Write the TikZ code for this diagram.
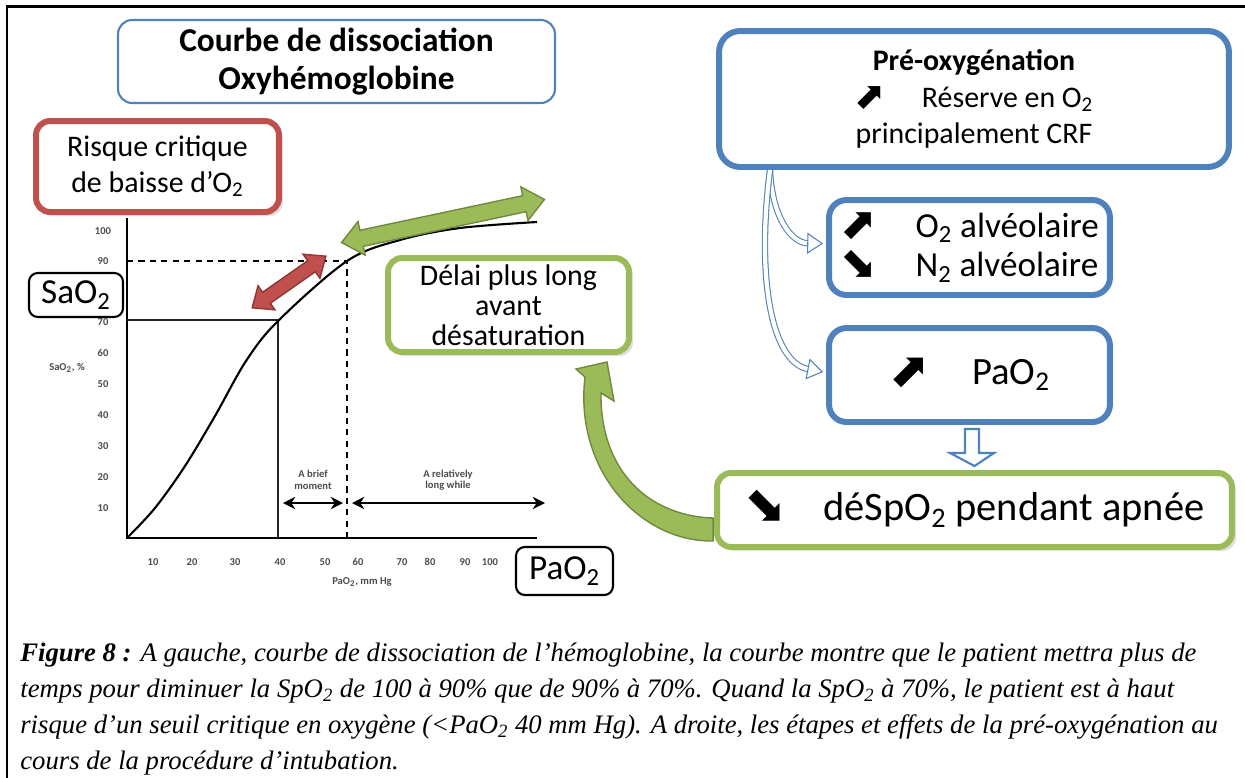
\documentclass[tikz,border=0pt]{standalone}
\usepackage{fontspec}
\setmainfont{Carlito}
\newfontfamily\capfont{Liberation Serif}
\newfontfamily\symfont{DejaVu Sans}
\usetikzlibrary{arrows.meta,calc,shapes.arrows,shadows}
\definecolor{offblue}{HTML}{4F81BD}
\definecolor{offred}{HTML}{C0504D}
\definecolor{offgreen}{HTML}{9BBB59}
\definecolor{darkgreen}{HTML}{71893F}
\definecolor{darkred}{HTML}{8C3836}
\newcommand{\upar}{\smash{\raisebox{-0.1ex}{\scalebox{1.25}{\symfont\char"2B08}}}}
\newcommand{\dnar}{\smash{\raisebox{-0.1ex}{\scalebox{1.25}{\symfont\char"2B0A}}}}
\newcommand{\sub}[1]{\textsubscript{#1}}
\tikzset{
  box/.style={draw, fill=white, align=center, inner sep=0pt, rounded corners=8pt},
  bluebox/.style={box, draw=offblue, line width=3.4pt, rounded corners=10pt},
  redbox/.style={box, draw=offred, line width=3.4pt, drop shadow={opacity=0.25}},
  greenbox/.style={box, draw=offgreen, line width=3.4pt, drop shadow={opacity=0.25}},
  blackbox/.style={box, line width=1.2pt, rounded corners=5pt, font=\fontsize{20}{22}\selectfont},
  tick/.style={inner sep=0pt, text=black!70, font=\bfseries\fontsize{6}{6.5}\selectfont},
  blockarr/.style={double arrow, inner xsep=0pt, line width=0.8pt, double arrow tip angle=80},
  hollow/.style={draw=offblue, double=white, line width=0.6pt, double distance=2.4pt,
    -{Triangle[fill=white, length=9pt, width=12pt, line width=0.6pt]}},
  span/.style={{Stealth[length=7pt,width=7pt]}-{Stealth[length=7pt,width=7pt]}, line width=0.9pt}
}
\begin{document}
\begin{tikzpicture}[x=0.02cm, y=-0.02cm]
\useasboundingbox (0,0) rectangle (1245,778);
\draw[line width=1.2pt] (7,800) -- (7,6.5) -- (1260,6.5);

% graph
\draw[line width=1.3pt] (127,218) -- (127,538) -- (537,538);
\draw[line width=0.8pt, black!85] (127,320) -- (278,320) -- (278,538);
\draw[line width=0.8pt, dash pattern=on 3.5pt off 3pt] (127,261) -- (347,261) -- (347,538);
\draw[line width=1.2pt] plot[smooth, tension=0.55] coordinates {(127,538) (155,508) (185,466) (215,416) (246,361) (278,321) (347,261) (400,240) (460,228) (537,222)};
\foreach \v/\y in {100/231,90/261,70/322,60/353,50/384,40/415,30/446,20/477,10/508}
  \node[tick] (y\v) at (103,\y) {\v};
\foreach \v/\x in {10/153,20/192,30/235,40/280,50/325,60/358,70/402,80/430,90/465,100/490}
  \node[tick] (x\v) at (\x,562) {\v};
\node[tick] (ylab) at (67,368) {SaO\sub{2}, \%};
\node[tick] (xlab) at (362,582) {PaO\sub{2}, mm Hg};
\node[tick, align=center] (brief) at (313,480) {A brief\\moment};
\node[tick, align=center] (long) at (448,480) {A relatively\\long while};
\coordinate (b1) at (283,503);
\coordinate (b2) at (343,503);
\coordinate (l1) at (352,503);
\coordinate (l2) at (545,503);
\draw[span] (b1) -- (b2);
\draw[span] (l1) -- (l2);

% left boxes
\node[box, draw=offblue, line width=1.2pt, minimum width=8.74cm, minimum height=1.66cm,
  font=\bfseries\fontsize{19}{22}\selectfont] (title) at (336.5,61.5) {Courbe de dissociation\\Oxyhémoglobine};
\node[redbox, minimum width=4.86cm, minimum height=1.82cm, font=\fontsize{17}{20}\selectfont]
  (risk) at (157.5,166.5) {Risque critique\\de baisse d’O\sub{2}};
\node[blackbox, minimum width=1.88cm, minimum height=0.88cm] (sao) at (76,295) {SaO\sub{2}};
\node[blackbox, minimum width=1.94cm, minimum height=0.96cm] (pao) at (564.5,571) {PaO\sub{2}};
\node[greenbox, minimum width=4.82cm, minimum height=1.88cm, font=\fontsize{17}{17}\selectfont]
  (delai) at (508.5,305) {Délai plus long\\avant\\désaturation};
\node[blockarr, fill=offred, draw=darkred, rotate=35, minimum height=1.8cm, inner ysep=0.12cm,
  double arrow head extend=0.16cm] (drop) at (289,282) {};
\node[blockarr, fill=offgreen, draw=darkgreen, rotate=12, minimum height=4.15cm, inner ysep=0.15cm,
  double arrow head extend=0.18cm] (plateau) at (443,221) {};

% right boxes
\node[bluebox, rounded corners=12pt, minimum width=10.2cm, minimum height=2.72cm, font=\fontsize{17}{20.7}\selectfont]
  (preoxy) at (974,99) {\textbf{Pré-oxygénation}\\\upar\hspace{1.2em}Réserve en O\sub{2}\\principalement CRF};
\node[bluebox, minimum width=5.62cm, minimum height=1.9cm, align=left, font=\fontsize{20}{22.7}\selectfont]
  (alv) at (969.5,247.5) {\upar\hspace{1.1em}O\sub{2} alvéolaire\\\dnar\hspace{1.1em}N\sub{2} alvéolaire};
\node[bluebox, minimum width=5.62cm, minimum height=1.88cm, font=\fontsize{22}{24}\selectfont]
  (pa) at (969.5,375) {\upar\hspace{1.1em}PaO\sub{2}};
\node[greenbox, drop shadow={opacity=0}, minimum width=10.3cm, minimum height=1.48cm, font=\fontsize{23}{25}\selectfont]
  (despo) at (974.5,510) {\dnar\hspace{0.9em}déSpO\sub{2} pendant apnée};

\coordinate (fork) at (770,170);
\draw[hollow] (fork) .. controls (772,218) and (792,243) .. ($(alv.west)+(-3,-4)$);
\draw[hollow] (fork) .. controls (756,280) and (772,362) .. ($(pa.west)+(-3,-3)$);

\coordinate (c) at ($(pa.south)+(2.5,0)$);
\draw[draw=offblue, line width=1.2pt, fill=white] ($(c)+(-7,4)$) -- ($(c)+(-7,28)$) -- ($(c)+(-22,28)$)
  -- ($(despo.north)+(0,-4)$) -- ($(c)+(22,28)$) -- ($(c)+(7,28)$) -- ($(c)+(7,4)$) -- cycle;

\fill[offgreen, draw=darkgreen, line width=0.8pt] ($(despo.west)+(-1,8)$) .. controls (648,516) and (600,470) .. (601,393)
  -- (614,401) -- (607,362) -- (576,369) -- (585,377) .. controls (574,470) and (640,542) .. ($(despo.west)+(-1,31)$) -- cycle;

\node[anchor=north west, align=left, inner sep=0pt, font=\capfont\itshape\fontsize{15.2}{20.4}\selectfont]
  (cap) at (20,643) {\textbf{Figure 8 :} A gauche, courbe de dissociation de l’hémoglobine, la courbe montre que le patient mettra plus de\\
  temps pour diminuer la SpO\sub{2} de 100 à 90\% que de 90\% à 70\%. Quand la SpO\sub{2} à 70\%, le patient est à haut\\
  risque d’un seuil critique en oxygène (<PaO\sub{2} 40 mm Hg). A droite, les étapes et effets de la pré-oxygénation au\\
  cours de la procédure d’intubation.};
\end{tikzpicture}
\end{document}
